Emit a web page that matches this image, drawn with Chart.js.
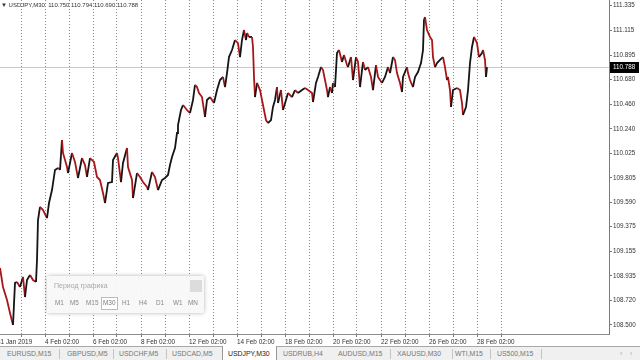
<!DOCTYPE html>
<html><head><meta charset="utf-8">
<script src="https://cdn.jsdelivr.net/npm/chart.js@4"></script>
<style>
html,body{margin:0;padding:0;width:640px;height:360px;overflow:hidden;background:#fff;font-family:"Liberation Sans",Arial,sans-serif;}
#c{position:absolute;left:0;top:0;}
#hdr{position:absolute;left:1px;top:1px;font-size:6px;color:#333;white-space:pre;line-height:8px;}
#panel{position:absolute;left:47px;top:276px;width:157px;height:37px;background:rgba(248,248,248,0.93);box-shadow:0 0 4px rgba(0,0,0,0.3);border-radius:2px;}
#panel .t{position:absolute;left:7px;top:6px;font-size:7px;color:#a8a8a8;}
#panel .sq{position:absolute;left:143px;top:4px;width:12px;height:12px;background:#dcdcdc;}
#panel .b{position:absolute;top:23px;font-size:6.4px;color:#888;}
#panel .act{position:absolute;left:54px;top:21px;width:15px;height:11px;border:1px solid #bbb;background:#fff;}
#tabs{position:absolute;left:0;top:346px;width:640px;height:14px;background:#f0f0f0;border-top:1px solid #a8a8a8;}
#tabs .tab{position:absolute;top:3px;font-size:6.9px;color:#777;white-space:nowrap;}
#tabs .sep{position:absolute;top:2px;width:1px;height:10px;background:#c4c4c4;}
#tabs .active{position:absolute;left:222px;top:-1px;width:53px;height:14px;background:#fff;border:1px solid #999;border-top:none;}
</style></head>
<body>
<canvas id="c" width="640" height="347"></canvas>
<div id="hdr"></div>
<div id="panel"><div class="t">Период графика</div><div class="sq"></div><div class="act"></div></div>
<div id="tabs"><div class="active"></div></div>
<script>
// ---- data ----
const symbol = 'USDJPY,M30';
const headerOHLC = ['110.750', '110.794', '110.690', '110.788'];
const currentPrice = 110.788;
// M30 bar index counted from 31 Jan 2019 02:00
const bars = [6,12,20,26,32,36,40,46,52,56,60,66,72,78,80,82,86,92,100,104,110,116,122,126,130,132,140,142,150,156,162,170,176,180,186,194,200,206,212,216,222,230,232,240,242,248,252,260,262,270,272,280,286,292,300,302,310,316,322,330,336,342,346,350,356,360,362,368,372,380,386,392,396,400,404,410,416,420,426,434,440,446,452,456,460,464,470,476,482,486,490,494,498,500,504,510,512,514,516,520,526,530,534,538,542,548,552,556,560,562,568,572,578,582,590,596,602,610,616,622,630,632,638,642,648,652,656,660,662,666,670,672,676,680,684,690,694,700,702,708,712,718,722,726,732,736,742,748,752,758,762,770,776,782,786,792,796,800,806,810,812,820,822,826,832,836,842,848,852,854,856,860,866,870,872,876,880,886,892,896,900,902,906,908,912,920,926,930,932,938,942,946,950,954,960,964,970,972,976,978,980];
const prices = [109.006,108.837,108.722,108.606,108.500,108.873,108.881,108.837,108.926,108.748,108.899,108.944,108.899,108.881,109.077,109.431,109.547,109.520,109.449,109.582,109.697,109.875,109.893,109.875,110.141,110.026,109.901,109.848,110.026,109.946,109.804,109.981,109.919,109.813,109.981,109.946,109.813,109.786,109.671,109.582,109.760,109.768,109.964,110.026,109.981,109.768,109.937,110.070,109.901,109.786,109.626,109.848,109.813,109.768,109.724,109.697,109.857,109.813,109.697,109.786,109.804,109.831,109.919,109.990,110.070,110.203,110.274,110.407,110.451,110.407,110.380,110.496,110.629,110.611,110.558,110.522,110.345,110.496,110.522,110.469,110.584,110.673,110.700,110.611,110.735,110.877,110.939,111.028,111.001,110.877,111.028,111.117,111.028,111.090,111.055,111.055,110.966,110.700,110.522,110.647,110.584,110.496,110.407,110.318,110.292,110.318,110.434,110.496,110.611,110.469,110.584,110.407,110.496,110.558,110.522,110.584,110.558,110.584,110.602,110.584,110.558,110.478,110.647,110.700,110.788,110.762,110.673,110.584,110.522,110.611,110.558,110.647,110.611,110.913,110.939,110.833,110.895,110.806,110.788,110.877,110.673,110.877,110.833,110.611,110.833,110.762,110.788,110.700,110.584,110.806,110.700,110.647,110.700,110.788,110.735,110.877,110.851,110.735,110.647,110.567,110.700,110.788,110.735,110.673,110.611,110.700,110.744,110.824,110.939,111.205,111.232,111.117,111.055,111.028,110.877,110.788,110.824,110.851,110.877,110.788,110.673,110.700,110.584,110.434,110.584,110.602,110.584,110.469,110.363,110.434,110.584,110.824,110.966,111.055,111.001,110.877,110.913,110.939,110.851,110.700,110.788];
const xTickBars = [0,48,96,144,192,240,288,336,384,432,480,528,576,624,672,720,768,816,864,912,960,1008];
const xTickLabels = ['31 Jan 2019','','4 Feb 02:00','','6 Feb 02:00','','8 Feb 02:00','','12 Feb 02:00','','14 Feb 02:00','','18 Feb 02:00','','20 Feb 02:00','','22 Feb 02:00','','26 Feb 02:00','','28 Feb 02:00',''];
const yTickValues = [108.500,108.720,108.935,109.155,109.375,109.590,109.805,110.025,110.240,110.460,110.680,110.895,111.115,111.335];
const periods = ['M1','M5','M15','M30','H1','H4','D1','W1','MN'];
const periodX = [8,23,39,56,75,92,109,126,141];
const tabNames = ['EURUSD,M15','GBPUSD,M5','USDCHF,M5','USDCAD,M5','USDJPY,M30','USDRUB,H4','AUDUSD,M15','XAUUSD,M30','WTI,M15','US500,M15'];
const tabX = [7,67,119,172,228,283,338,397,455,497];
const sepX = [59,113,166,390,452,490,541];

// ---- html text ----
document.getElementById('hdr').textContent = '\u25BC ' + symbol + '  ' + headerOHLC.join(' ');
const panel = document.getElementById('panel');
periods.forEach((p,i)=>{const d=document.createElement('div');d.className='b';d.style.left=periodX[i]+'px';d.textContent=p;if(p==='M30'){d.style.color='#777';}panel.appendChild(d);});
const tabsEl = document.getElementById('tabs');
tabNames.forEach((t,i)=>{const d=document.createElement('div');d.className='tab';d.style.left=tabX[i]+'px';d.textContent=t;if(t===symbol){d.style.color='#222';}tabsEl.appendChild(d);});
sepX.forEach(x=>{const d=document.createElement('div');d.className='sep';d.style.left=x+'px';tabsEl.appendChild(d);});
['\u2039','\u203A'].forEach((a,i)=>{const d=document.createElement('div');d.className='tab';d.style.left=(620+i*10)+'px';d.style.color='#aaa';d.textContent=a;tabsEl.appendChild(d);});

// ---- chart ----
const UP='#151515', DOWN='#a8161a';
const priceLine = {
  id:'priceLine',
  beforeDatasetsDraw(chart){
    const {ctx, chartArea, scales:{y}} = chart;
    const py = Math.round(y.getPixelForValue(currentPrice))+0.5;
    ctx.save();ctx.strokeStyle='#c9c9c9';ctx.lineWidth=1;
    ctx.beginPath();ctx.moveTo(chartArea.left,py);ctx.lineTo(chartArea.right,py);ctx.stroke();ctx.restore();
  },
  afterDraw(chart){
    const {ctx, chartArea, scales:{y}} = chart;
    const py = Math.round(y.getPixelForValue(currentPrice));
    ctx.save();ctx.fillStyle='#000';ctx.fillRect(chartArea.right+1,py-5,29,11);
    ctx.fillStyle='#fff';ctx.font='6.3px "Liberation Sans"';ctx.textBaseline='middle';ctx.textAlign='left';
    ctx.fillText(currentPrice.toFixed(3),chartArea.right+4,py+0.5);ctx.restore();
  }
};
new Chart(document.getElementById('c'), {
  type:'line',
  data:{datasets:[{
    data: bars.map((b,i)=>({x:b,y:prices[i]})),
    borderWidth:1.8, pointRadius:0, tension:0,
    borderColor:UP,
    segment:{borderColor:c=> c.p1.parsed.y>=c.p0.parsed.y?UP:DOWN}
  }]},
  options:{
    responsive:false, animation:false, devicePixelRatio:1,
    layout:{padding:0},
    plugins:{legend:{display:false},tooltip:{enabled:false}},
    scales:{
      x:{type:'linear',position:'bottom',min:6,max:1224,
        afterBuildTicks:s=>{s.ticks=xTickBars.map(v=>({value:v}));},
        afterFit:s=>{s.height=13;s.paddingLeft=0;s.paddingRight=0;},
        ticks:{autoSkip:false,maxRotation:0,minRotation:0,align:'start',padding:1,color:'#333',
          font:{family:'Liberation Sans',size:6.4},
          callback:(v,i)=>xTickLabels[i]},
        grid:{color:'#8a8a8a',lineWidth:1,drawTicks:true,tickLength:3,tickColor:'#777'},
        border:{display:true,color:'#8c8c8c',width:1,dash:[1,2]}
      },
      y:{type:'linear',position:'right',min:108.42,max:111.383,
        afterBuildTicks:s=>{s.ticks=yTickValues.map(v=>({value:v}));},
        afterFit:s=>{s.width=31;s.paddingTop=0;s.paddingBottom=0;},
        ticks:{autoSkip:false,padding:1,color:'#333',font:{family:'Liberation Sans',size:6.3},
          callback:v=>Number(v).toFixed(3)},
        grid:{drawOnChartArea:false,drawTicks:true,tickLength:3,tickColor:'#777'},
        border:{display:true,color:'#7a7a7a',width:1}
      }
    }
  },
  plugins:[priceLine]
});
</script>
</body></html>
